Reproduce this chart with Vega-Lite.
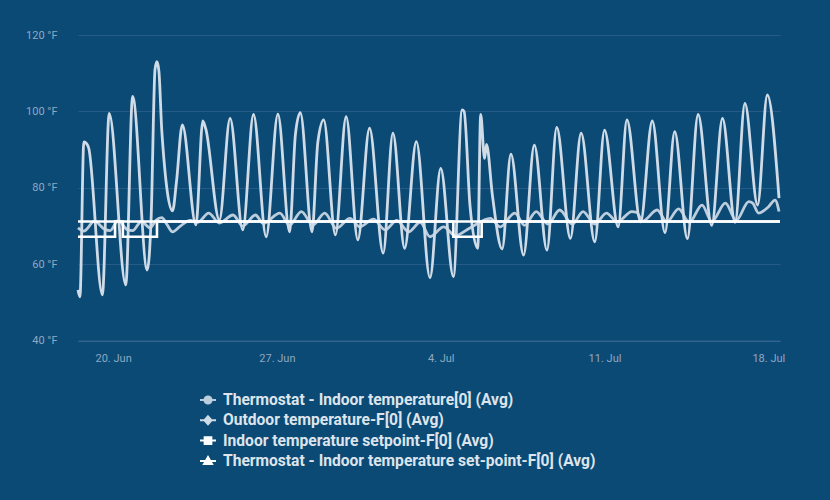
{
  "$schema": "https://vega.github.io/schema/vega-lite/v6.json",
  "width": 702,
  "height": 305.7,
  "autosize": {"type": "none"},
  "padding": {"left": 78, "top": 35, "right": 50, "bottom": 159.3},
  "background": "#0b4a75",
  "config": {
    "view": {"stroke": null},
    "font": "Roboto"
  },
  "datasets": {
    "indoor": [
      {"t": "2021-06-18T12:00", "v": 69.5}, {"t": "2021-06-18T18:00", "v": 68.7}, {"t": "2021-06-19T05:00", "v": 71.3},
      {"t": "2021-06-19T15:00", "v": 69.2}, {"t": "2021-06-19T21:00", "v": 68.8}, {"t": "2021-06-20T05:00", "v": 71.4},
      {"t": "2021-06-20T15:00", "v": 69.0}, {"t": "2021-06-20T20:00", "v": 68.8}, {"t": "2021-06-21T05:00", "v": 71.2},
      {"t": "2021-06-21T14:00", "v": 69.5}, {"t": "2021-06-21T20:00", "v": 71.5}, {"t": "2021-06-22T02:00", "v": 72.2},
      {"t": "2021-06-22T07:00", "v": 70.5}, {"t": "2021-06-22T13:00", "v": 68.5}, {"t": "2021-06-22T21:00", "v": 70.0},
      {"t": "2021-06-23T07:00", "v": 71.5}, {"t": "2021-06-23T15:00", "v": 71.0}, {"t": "2021-06-24T02:00", "v": 73.4},
      {"t": "2021-06-24T13:00", "v": 70.8}, {"t": "2021-06-25T03:00", "v": 72.9}, {"t": "2021-06-25T13:00", "v": 70.0},
      {"t": "2021-06-26T02:00", "v": 72.9}, {"t": "2021-06-26T10:00", "v": 70.7}, {"t": "2021-06-27T03:00", "v": 73.4},
      {"t": "2021-06-27T13:00", "v": 70.2}, {"t": "2021-06-28T01:00", "v": 73.8}, {"t": "2021-06-28T13:00", "v": 70.3},
      {"t": "2021-06-29T01:00", "v": 73.4}, {"t": "2021-06-29T13:00", "v": 69.4}, {"t": "2021-06-30T03:00", "v": 72.0},
      {"t": "2021-06-30T13:00", "v": 69.8}, {"t": "2021-07-01T03:00", "v": 71.8}, {"t": "2021-07-01T15:00", "v": 69.0},
      {"t": "2021-07-02T03:00", "v": 71.5}, {"t": "2021-07-02T15:00", "v": 68.5}, {"t": "2021-07-03T03:00", "v": 71.0},
      {"t": "2021-07-03T13:00", "v": 67.2}, {"t": "2021-07-04T03:00", "v": 69.8}, {"t": "2021-07-04T15:00", "v": 67.5},
      {"t": "2021-07-05T06:00", "v": 69.5}, {"t": "2021-07-06T03:00", "v": 72.0}, {"t": "2021-07-06T13:00", "v": 69.8},
      {"t": "2021-07-07T04:00", "v": 73.4}, {"t": "2021-07-07T14:00", "v": 70.2}, {"t": "2021-07-08T02:00", "v": 73.8},
      {"t": "2021-07-08T14:00", "v": 70.5}, {"t": "2021-07-09T02:00", "v": 74.2}, {"t": "2021-07-09T15:00", "v": 70.5},
      {"t": "2021-07-10T02:00", "v": 73.8}, {"t": "2021-07-10T14:00", "v": 70.5}, {"t": "2021-07-11T02:00", "v": 73.4},
      {"t": "2021-07-11T13:00", "v": 71.1}, {"t": "2021-07-12T04:00", "v": 73.8}, {"t": "2021-07-12T09:00", "v": 73.6},
      {"t": "2021-07-12T15:00", "v": 71.3}, {"t": "2021-07-13T06:00", "v": 74.2}, {"t": "2021-07-13T16:00", "v": 71.1},
      {"t": "2021-07-14T04:00", "v": 74.5}, {"t": "2021-07-14T15:00", "v": 71.0}, {"t": "2021-07-15T04:00", "v": 75.5},
      {"t": "2021-07-15T14:00", "v": 71.2}, {"t": "2021-07-16T04:00", "v": 76.0}, {"t": "2021-07-16T15:00", "v": 71.5},
      {"t": "2021-07-17T04:00", "v": 76.4}, {"t": "2021-07-17T08:00", "v": 76.0}, {"t": "2021-07-17T14:00", "v": 73.4},
      {"t": "2021-07-18T00:00", "v": 75.0}, {"t": "2021-07-18T07:00", "v": 76.8}, {"t": "2021-07-18T11:00", "v": 73.8}
    ],
    "outdoor": [
      {"t": "2021-06-18T12:00", "v": 53.3}, {"t": "2021-06-18T14:00", "v": 51.5}, {"t": "2021-06-18T18:00", "v": 92.0},
      {"t": "2021-06-18T21:00", "v": 91.5}, {"t": "2021-06-18T23:00", "v": 90.4}, {"t": "2021-06-19T13:00", "v": 52.0},
      {"t": "2021-06-19T20:00", "v": 99.5}, {"t": "2021-06-20T13:00", "v": 54.6}, {"t": "2021-06-20T20:00", "v": 103.9},
      {"t": "2021-06-21T11:00", "v": 58.5}, {"t": "2021-06-21T15:00", "v": 72.0}, {"t": "2021-06-21T19:00", "v": 111.0},
      {"t": "2021-06-21T21:00", "v": 113.0}, {"t": "2021-06-21T23:00", "v": 110.5}, {"t": "2021-06-22T02:00", "v": 94.7},
      {"t": "2021-06-22T13:00", "v": 74.0}, {"t": "2021-06-22T17:00", "v": 81.6}, {"t": "2021-06-22T23:00", "v": 96.5},
      {"t": "2021-06-23T13:00", "v": 70.3}, {"t": "2021-06-23T20:00", "v": 97.5}, {"t": "2021-06-23T23:00", "v": 95.5},
      {"t": "2021-06-24T13:00", "v": 71.6}, {"t": "2021-06-25T00:00", "v": 98.2}, {"t": "2021-06-25T13:00", "v": 69.0},
      {"t": "2021-06-26T00:00", "v": 99.2}, {"t": "2021-06-26T13:00", "v": 67.2}, {"t": "2021-06-27T01:00", "v": 99.3},
      {"t": "2021-06-27T13:00", "v": 68.5}, {"t": "2021-06-27T19:00", "v": 94.0}, {"t": "2021-06-28T00:00", "v": 99.7},
      {"t": "2021-06-28T12:00", "v": 68.5}, {"t": "2021-06-28T18:00", "v": 92.0}, {"t": "2021-06-29T00:00", "v": 97.8},
      {"t": "2021-06-29T12:00", "v": 67.7}, {"t": "2021-06-29T23:00", "v": 98.6}, {"t": "2021-06-30T11:00", "v": 66.4},
      {"t": "2021-06-30T23:00", "v": 95.6}, {"t": "2021-07-01T13:00", "v": 62.9}, {"t": "2021-07-01T23:00", "v": 94.3},
      {"t": "2021-07-02T11:00", "v": 64.2}, {"t": "2021-07-02T23:00", "v": 92.1}, {"t": "2021-07-03T13:00", "v": 56.5},
      {"t": "2021-07-04T00:00", "v": 85.1}, {"t": "2021-07-04T13:00", "v": 56.8}, {"t": "2021-07-04T22:00", "v": 100.4},
      {"t": "2021-07-05T00:00", "v": 100.0}, {"t": "2021-07-05T06:00", "v": 75.5}, {"t": "2021-07-05T14:00", "v": 64.2},
      {"t": "2021-07-05T17:00", "v": 99.2}, {"t": "2021-07-05T21:00", "v": 87.7}, {"t": "2021-07-05T23:00", "v": 91.4},
      {"t": "2021-07-06T05:00", "v": 78.1}, {"t": "2021-07-06T15:00", "v": 64.0}, {"t": "2021-07-07T00:00", "v": 88.8},
      {"t": "2021-07-07T13:00", "v": 62.4}, {"t": "2021-07-08T00:00", "v": 91.2}, {"t": "2021-07-08T13:00", "v": 63.7},
      {"t": "2021-07-08T23:00", "v": 95.8}, {"t": "2021-07-09T13:00", "v": 66.8}, {"t": "2021-07-10T00:00", "v": 94.3},
      {"t": "2021-07-10T14:00", "v": 65.9}, {"t": "2021-07-11T00:00", "v": 95.1}, {"t": "2021-07-11T14:00", "v": 69.8},
      {"t": "2021-07-11T23:00", "v": 97.8}, {"t": "2021-07-12T13:00", "v": 71.1}, {"t": "2021-07-13T01:00", "v": 97.5},
      {"t": "2021-07-13T14:00", "v": 68.3}, {"t": "2021-07-14T00:00", "v": 94.7}, {"t": "2021-07-14T13:00", "v": 66.7},
      {"t": "2021-07-15T00:00", "v": 99.2}, {"t": "2021-07-15T14:00", "v": 70.2}, {"t": "2021-07-16T01:00", "v": 98.2},
      {"t": "2021-07-16T14:00", "v": 71.0}, {"t": "2021-07-17T00:00", "v": 102.1}, {"t": "2021-07-17T13:00", "v": 75.5},
      {"t": "2021-07-17T23:00", "v": 104.3}, {"t": "2021-07-18T11:00", "v": 77.3}
    ],
    "setpoint": [
      {"t": "2021-06-18T12:00", "v": 71.2}, {"t": "2021-07-18T12:00", "v": 71.2}
    ],
    "tsetpoint": [
      {"t": "2021-06-18T12:00", "v": 67.2}, {"t": "2021-06-20T02:00", "v": 71.2}, {"t": "2021-06-20T10:00", "v": 67.2},
      {"t": "2021-06-21T21:00", "v": 71.2}, {"t": "2021-07-04T13:00", "v": 67.2}, {"t": "2021-07-05T18:00", "v": 71.2},
      {"t": "2021-07-18T12:00", "v": 71.2}
    ]
  },
  "encoding": {
    "x": {
      "field": "t", "type": "temporal", "title": null,
      "scale": {"domain": [{"year": 2021, "month": 6, "date": 18, "hours": 12}, {"year": 2021, "month": 7, "date": 18, "hours": 12}]},
      "axis": {
        "values": [{"year": 2021, "month": 6, "date": 20}, {"year": 2021, "month": 6, "date": 27}, {"year": 2021, "month": 7, "date": 4}, {"year": 2021, "month": 7, "date": 11}, {"year": 2021, "month": 7, "date": 18}],
        "format": "%-d. %b", "grid": false, "ticks": false, "domain": true, "domainColor": "#3a6c94", "domainWidth": 1,
        "labelColor": "#8fa8c2", "labelFontSize": 11, "labelFont": "Roboto", "labelPadding": 12
      }
    },
    "y": {
      "field": "v", "type": "quantitative", "title": null,
      "scale": {"domain": [40, 120], "nice": false, "zero": false},
      "axis": {
        "values": [40, 60, 80, 100, 120], "labelExpr": "datum.value + ' °F'",
        "grid": true, "gridColor": "#255b86", "gridWidth": 1, "ticks": false, "domain": false,
        "labelColor": "#8fa8c2", "labelFontSize": 11, "labelFont": "Roboto", "labelPadding": 21
      }
    },
    "color": {
      "scale": {
        "domain": ["Thermostat - Indoor temperature[0] (Avg)", "Outdoor temperature-F[0] (Avg)", "Indoor temperature setpoint-F[0] (Avg)", "Thermostat - Indoor temperature set-point-F[0] (Avg)"],
        "range": ["#bccddd", "#cfdbe7", "#ffffff", "#ffffff"]
      },
      "legend": {
        "orient": "none", "legendX": 121, "legendY": 356, "title": null, "direction": "vertical",
        "padding": 0, "rowPadding": 2.3, "labelOffset": 6, "labelLimit": 0,
        "labelFont": "Roboto", "labelFontSize": 15.6, "labelFontWeight": "bold", "labelColor": "#dde4ec",
        "symbolSize": 256,
        "encode": {
          "symbols": {
            "update": {
              "shape": {"signal": "datum.index == 0 ? 'M-1,0L1,0M-0.45,0A0.45,0.45,0,1,0,0.45,0A0.45,0.45,0,1,0,-0.45,0Z' : datum.index == 1 ? 'M-1,0L1,0M0,-0.5L0.45,0L0,0.5L-0.45,0Z' : datum.index == 2 ? 'M-1,0L1,0M-0.42,-0.42L0.42,-0.42L0.42,0.42L-0.42,0.42Z' : 'M-1,0L1,0M0,-0.5L0.5,0.38L-0.5,0.38Z'"},
              "fill": {"signal": "datum.index < 2 ? (datum.index == 0 ? '#bccddd' : '#cfdbe7') : '#ffffff'"},
              "stroke": {"signal": "datum.index < 2 ? (datum.index == 0 ? '#bccddd' : '#cfdbe7') : '#ffffff'"},
              "strokeWidth": {"value": 2},
              "opacity": {"value": 1},
              "fillOpacity": {"value": 1}
            }
          }
        }
      }
    }
  },
  "layer": [
    {
      "data": {"name": "indoor"},
      "mark": {"type": "line", "interpolate": "monotone", "strokeWidth": 2.8},
      "encoding": {"color": {"datum": "Thermostat - Indoor temperature[0] (Avg)"}}
    },
    {
      "data": {"name": "outdoor"},
      "mark": {"type": "line", "interpolate": "monotone", "strokeWidth": 2.8},
      "encoding": {"color": {"datum": "Outdoor temperature-F[0] (Avg)"}}
    },
    {
      "data": {"name": "setpoint"},
      "mark": {"type": "line", "interpolate": "step-after", "strokeWidth": 2.6},
      "encoding": {"color": {"datum": "Indoor temperature setpoint-F[0] (Avg)"}}
    },
    {
      "data": {"name": "tsetpoint"},
      "mark": {"type": "line", "interpolate": "step-after", "strokeWidth": 2.6},
      "encoding": {"color": {"datum": "Thermostat - Indoor temperature set-point-F[0] (Avg)"}}
    }
  ]
}
